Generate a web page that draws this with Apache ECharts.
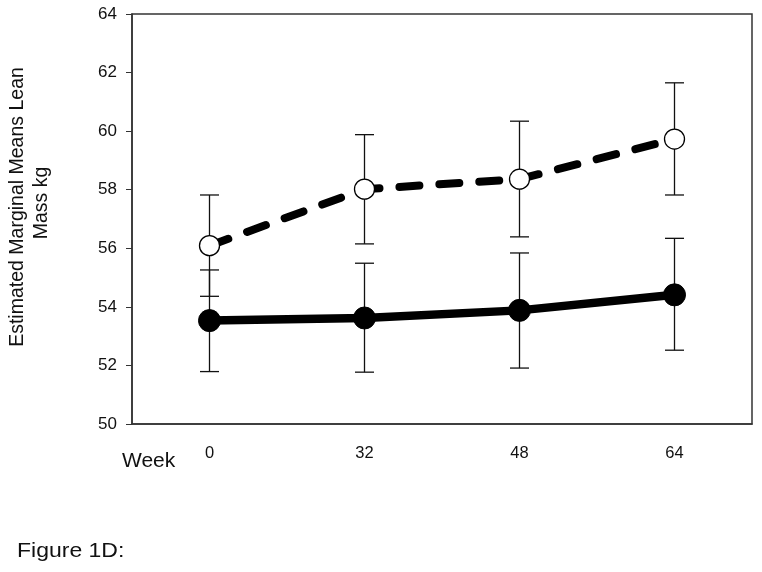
<!DOCTYPE html>
<html>
<head>
<meta charset="utf-8">
<script src="https://cdn.jsdelivr.net/npm/echarts@6/dist/echarts.min.js"></script>
<style>html,body{margin:0;padding:0;background:#fff}#c{width:762px;height:572px}</style>
</head>
<body>
<div id="c"></div>
<script>
var weeks = ['0', '32', '48', '64'];
var openMean = [56.09, 58.02, 58.36, 59.73];
var openUpper = [57.82, 59.88, 60.34, 61.65];
var openLower = [54.36, 56.15, 56.39, 57.82];
var solidMean = [53.53, 53.62, 53.88, 54.41];
var solidUpper = [55.26, 55.49, 55.84, 56.34];
var solidLower = [51.79, 51.77, 51.91, 52.52];
var yTicks = [50, 52, 54, 56, 58, 60, 62, 64];

var chart = echarts.init(document.getElementById('c'), null, {renderer: 'canvas'});
var font = 'Arial, "Liberation Sans", sans-serif';

function errData(lo, hi) {
  return weeks.map(function (w, i) { return [i, lo[i], hi[i]]; });
}
function errRender(params, api) {
  var x = api.value(0);
  var lo = api.coord([x, api.value(1)]);
  var hi = api.coord([x, api.value(2)]);
  var hw = 9.5;
  var st = {stroke: '#111', lineWidth: 1.3};
  return {
    type: 'group',
    children: [
      {type: 'line', shape: {x1: lo[0], y1: lo[1], x2: hi[0], y2: hi[1]}, style: st},
      {type: 'line', shape: {x1: hi[0] - hw, y1: hi[1], x2: hi[0] + hw, y2: hi[1]}, style: st},
      {type: 'line', shape: {x1: lo[0] - hw, y1: lo[1], x2: lo[0] + hw, y2: lo[1]}, style: st}
    ]
  };
}

chart.setOption({
  animation: false,
  backgroundColor: '#fff',
  grid: {left: 132, right: 10, top: 14, bottom: 148, containLabel: false, outerBoundsMode: 'none',
    show: true, borderColor: '#333', borderWidth: 1.5, backgroundColor: 'transparent'},
  xAxis: {
    type: 'category',
    data: weeks,
    boundaryGap: true,
    axisLine: {lineStyle: {color: '#333', width: 1.5}},
    axisTick: {alignWithLabel: true, length: 5, lineStyle: {color: '#333'}},
    axisLabel: {fontSize: 16.5, color: '#111', fontFamily: font, margin: 21},
    splitLine: {show: false}
  },
  yAxis: {
    type: 'value',
    min: 50, max: 64, interval: 2,
    axisLine: {show: true, lineStyle: {color: '#333', width: 1.5}},
    axisTick: {show: true, length: 6, lineStyle: {color: '#333'}},
    axisLabel: {fontSize: 17, color: '#111', fontFamily: font, margin: 15,
      formatter: function (v) { return yTicks.indexOf(v) >= 0 ? String(v) : ''; }},
    splitLine: {show: false}
  },
  graphic: [
    {type: 'text', x: 18, y: 207, rotation: Math.PI / 2,
      style: {text: 'Estimated Marginal Means Lean', font: '19.5px ' + font, fill: '#111', align: 'center', verticalAlign: 'middle'}},
    {type: 'text', x: 42, y: 203, rotation: Math.PI / 2,
      style: {text: 'Mass kg', font: '19.5px ' + font, fill: '#111', align: 'center', verticalAlign: 'middle'}},
    {type: 'text', x: 122, y: 451, scaleX: 1.05,
      style: {text: 'Week', font: '20px ' + font, fill: '#111'}},
    {type: 'text', x: 17, y: 541, scaleX: 1.15,
      style: {text: 'Figure 1D:', font: '20px ' + font, fill: '#111'}}
  ],
  series: [
    {type: 'custom', renderItem: errRender, data: errData(openLower, openUpper), z: 1, silent: true},
    {type: 'custom', renderItem: errRender, data: errData(solidLower, solidUpper), z: 1, silent: true},
    {
      type: 'line', data: solidMean, z: 3,
      symbol: 'circle', symbolSize: 22,
      lineStyle: {color: '#000', width: 8.5},
      itemStyle: {color: '#000', borderColor: '#000', borderWidth: 1}
    },
    {
      type: 'line', data: openMean, z: 4,
      symbol: 'circle', symbolSize: 20,
      lineStyle: {color: '#000', width: 8, type: [20, 20], cap: 'round'},
      itemStyle: {color: '#fff', borderColor: '#000', borderWidth: 1.3}
    }
  ]
});
</script>
</body>
</html>
